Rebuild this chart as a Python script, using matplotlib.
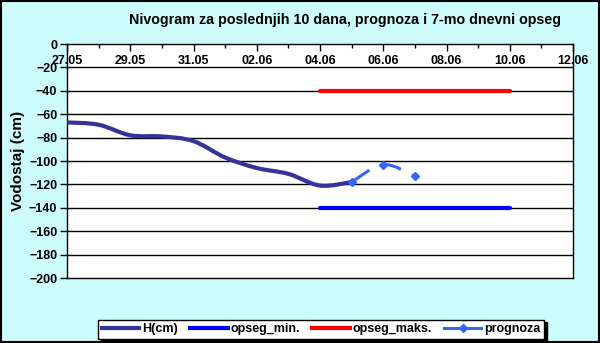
"""Nivogram za poslednjih 10 dana, prognoza i 7-mo dnevni opseg."""
from datetime import date

import matplotlib
matplotlib.use("Agg")
import matplotlib.dates as mdates
import matplotlib.pyplot as plt
import numpy as np
from matplotlib.patches import PathPatch, Rectangle
from matplotlib.path import Path
from matplotlib.lines import Line2D

plt.rcParams["font.family"] = ["Liberation Sans", "DejaVu Sans"]
plt.rcParams["font.weight"] = "bold"

TITLE = "Nivogram za poslednjih 10 dana, prognoza i 7-mo dnevni opseg"
YEAR = 2019

H_DAYS = [(27, 5), (28, 5), (29, 5), (30, 5), (31, 5),
          (1, 6), (2, 6), (3, 6), (4, 6), (5, 6)]
H_VALUES = [-67, -69, -78, -79, -83, -97, -106, -111, -121, -118]

PROG_DAYS = [(5, 6), (6, 6), (7, 6)]
PROG_VALUES = [-118, -103, -113]

OPSEG_DAYS = [(4, 6), (10, 6)]
OPSEG_MIN = [-140, -140]
OPSEG_MAKS = [-40, -40]

BG = "#CCFCFC"
C_H = "#333399"
C_MIN = "#0000FF"
C_MAKS = "#FF0000"
C_PROG = "#3366FF"


def to_num(days):
    return mdates.date2num([date(YEAR, m, d) for d, m in days])


def smooth_path(x, y):
    """Excel-like smoothed line as cubic Bezier segments."""
    pts = np.column_stack([x, y])
    n = len(pts)
    verts = [pts[0]]
    codes = [Path.MOVETO]
    for i in range(n - 1):
        p0 = pts[max(i - 1, 0)]
        p1 = pts[i]
        p2 = pts[i + 1]
        p3 = pts[min(i + 2, n - 1)]
        c1 = p1 + (p2 - p0) / 6.0
        c2 = p2 - (p3 - p1) / 6.0
        verts += [c1, c2, p2]
        codes += [Path.CURVE4] * 3
    return Path(verts, codes)


fig = plt.figure(figsize=(6.0, 3.43), dpi=100, facecolor=BG)
ax = fig.add_axes([0.1117, 0.1895, 0.8433, 0.6822])
ax.set_facecolor("white")

for v in range(-180, 0, 20):
    ax.axhline(v, color="black", linewidth=1.0, zorder=1)

xh = to_num(H_DAYS)
ax.add_patch(PathPatch(smooth_path(xh, H_VALUES), fill=False,
                       edgecolor=C_H, linewidth=3.0, capstyle="round",
                       zorder=3))

xo = to_num(OPSEG_DAYS)
ax.plot(xo, OPSEG_MIN, color=C_MIN, linewidth=3.0, solid_capstyle="round",
        zorder=3)
ax.plot(xo, OPSEG_MAKS, color=C_MAKS, linewidth=3.0, solid_capstyle="round",
        zorder=3)

xp = to_num(PROG_DAYS)
ax.add_patch(PathPatch(smooth_path(xp, PROG_VALUES), fill=False,
                       edgecolor=C_PROG, linewidth=2.2,
                       linestyle=(0, (7, 4)), zorder=4))
ax.plot(xp, PROG_VALUES, linestyle="none", marker="D", markersize=4,
        color=C_PROG, zorder=4)

x0 = mdates.date2num(date(YEAR, 5, 27))
x1 = mdates.date2num(date(YEAR, 6, 12))
ax.set_xlim(x0, x1)
ax.set_ylim(-200, 0)
ax.set_yticks(range(-200, 1, 20))
ax.tick_params(axis="y", direction="out", length=5, width=1,
               labelsize=9, pad=2)

ax.xaxis.tick_top()
ax.set_xticks(np.arange(x0, x1 + 0.5, 2))
ax.set_xticks(np.arange(x0, x1 + 0.5, 1), minor=True)
ax.xaxis.set_major_formatter(mdates.DateFormatter("%d.%m"))
ax.tick_params(axis="x", which="major", direction="in", length=5,
               width=1, labelsize=9, pad=-16.5)
ax.tick_params(axis="x", which="minor", direction="in", length=3, width=1)
plt.setp(ax.get_xticklabels(), fontweight="bold")
plt.setp(ax.get_yticklabels(), fontweight="bold")

for sp in ax.spines.values():
    sp.set_color("black")
    sp.set_linewidth(1.0)

ax.set_ylabel("Vodostaj (cm)", fontsize=11, fontweight="bold", labelpad=3)
fig.text(0.575, 0.942, TITLE, ha="center", va="center", fontsize=10.3,
         fontweight="bold")

handles = [
    Line2D([], [], color=C_H, linewidth=3.0),
    Line2D([], [], color=C_MIN, linewidth=3.0),
    Line2D([], [], color=C_MAKS, linewidth=3.0),
    Line2D([], [], color=C_PROG, linewidth=2.2, marker="D", markersize=4),
]
labels = ["H(cm)", "opseg_min.", "opseg_maks.", "prognoza"]
leg = fig.legend(handles, labels, loc="center", ncol=4,
                 bbox_to_anchor=(0.535, 0.040), fontsize=9, frameon=True,
                 fancybox=False, edgecolor="black", framealpha=1,
                 handlelength=3.0, handletextpad=0.2, columnspacing=1.0,
                 borderpad=0.3,
                 shadow={"color": "black", "alpha": 1.0})
leg.get_frame().set_linewidth(1.0)
for t in leg.get_texts():
    t.set_fontweight("bold")

fig.patches.append(Rectangle((0.001, 0.002), 0.997, 0.995,
                             transform=fig.transFigure, fill=False,
                             edgecolor="black", linewidth=1.5))

fig.savefig("out.png", dpi=100, facecolor=BG)
